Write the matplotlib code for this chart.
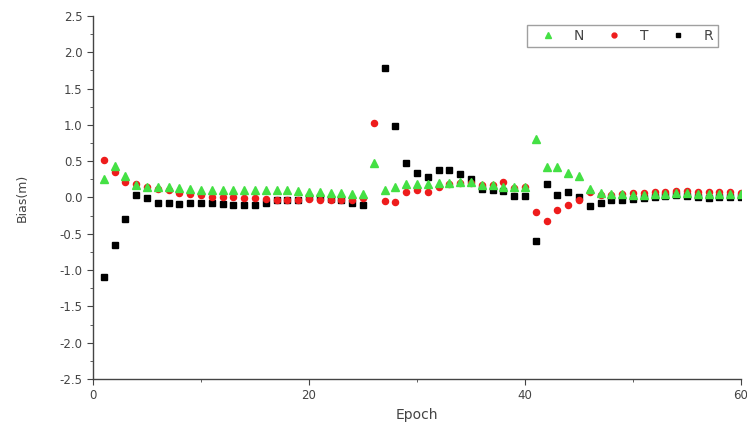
import numpy as np
import matplotlib
matplotlib.use("Agg")
import matplotlib.pyplot as plt
from matplotlib.ticker import MultipleLocator, FormatStrFormatter

epoch = list(range(1, 61))

# N (green triangles)
bias_n = [0.25, 0.44, 0.29, 0.17, 0.15, 0.15, 0.14, 0.13, 0.12, 0.11,
          0.10, 0.10, 0.10, 0.10, 0.10, 0.10, 0.10, 0.10, 0.09, 0.08,
          0.07, 0.06, 0.06, 0.05, 0.05, 0.47, 0.11, 0.15, 0.19, 0.19,
          0.19, 0.20, 0.20, 0.21, 0.22, 0.17, 0.17, 0.15, 0.14, 0.14,
          0.81, 0.42, 0.42, 0.34, 0.29, 0.12, 0.06, 0.05, 0.05, 0.04,
          0.04, 0.05, 0.05, 0.06, 0.06, 0.05, 0.05, 0.05, 0.05, 0.05]

# T (red circles)
bias_t = [0.52, 0.35, 0.22, 0.18, 0.15, 0.12, 0.10, 0.06, 0.05, 0.03,
          0.01, 0.01, 0.00, -0.01, -0.01, -0.02, -0.03, -0.04, -0.03, -0.02,
          -0.03, -0.03, -0.03, -0.03, -0.01, 1.02, -0.05, -0.06, 0.07, 0.11,
          0.07, 0.14, 0.18, 0.20, 0.20, 0.17, 0.17, 0.21, 0.13, 0.14,
          -0.20, -0.33, -0.17, -0.11, -0.03, 0.07, 0.04, 0.04, 0.05, 0.06,
          0.06, 0.07, 0.08, 0.09, 0.09, 0.08, 0.08, 0.07, 0.07, 0.06]

# R (black squares)
bias_r = [-1.10, -0.65, -0.29, 0.03, -0.01, -0.07, -0.07, -0.09, -0.07, -0.07,
          -0.07, -0.09, -0.11, -0.10, -0.10, -0.07, -0.04, -0.04, -0.03, 0.00,
          0.00, -0.02, -0.03, -0.07, -0.10, np.nan, 1.78, 0.98, 0.48, 0.34,
          0.28, 0.38, 0.38, 0.33, 0.26, 0.12, 0.10, 0.09, 0.02, 0.02,
          -0.60, 0.18, 0.03, 0.07, 0.00, -0.12, -0.07, -0.04, -0.04, -0.02,
          -0.01, 0.00, 0.02, 0.03, 0.02, 0.00, -0.01, 0.00, 0.00, 0.00]

fig = plt.figure(figsize=(7.47, 4.32), dpi=100)
ax = fig.add_axes([0.1245, 0.1227, 0.8675, 0.8403])

ax.plot(epoch, bias_r, "s", color="black", ms=4.4, label="R", zorder=3)
ax.plot(epoch, bias_t, "o", color="#ee1c1c", ms=4.4, label="T", zorder=4)
ax.plot(epoch, bias_n, "^", color="#44e044", ms=5.2, label="N", zorder=5)

ax.set_xlim(0, 60)
ax.set_ylim(-2.5, 2.5)
ax.xaxis.set_major_locator(MultipleLocator(20))
ax.xaxis.set_minor_locator(MultipleLocator(10))
ax.yaxis.set_major_locator(MultipleLocator(0.5))
ax.yaxis.set_minor_locator(MultipleLocator(0.25))
ax.yaxis.set_major_formatter(FormatStrFormatter("%.1f"))

for s in ["top", "right"]:
    ax.spines[s].set_visible(False)
for s in ["left", "bottom"]:
    ax.spines[s].set_color("#444444")
    ax.spines[s].set_linewidth(1.0)
ax.tick_params(which="major", direction="out", length=4, color="#444444",
               labelsize=8.5, labelcolor="#444444")
ax.tick_params(which="minor", direction="out", length=2.5, color="#444444")

ax.set_xlabel("Epoch", fontsize=10, color="#444444", labelpad=4)
ax.set_ylabel("Bias(m)", fontsize=9, color="#444444", labelpad=22)

handles, labels = ax.get_legend_handles_labels()
order = [2, 1, 0]
leg = ax.legend([handles[i] for i in order], [labels[i] for i in order],
                ncol=3, loc="upper right", bbox_to_anchor=(0.975, 0.995),
                fancybox=False, edgecolor="#888888", fontsize=10,
                handletextpad=0.7, columnspacing=0.9, handlelength=2.4,
                borderpad=0.3, markerscale=0.8)
leg.get_frame().set_linewidth(1.0)
for t in leg.get_texts():
    t.set_color("#444444")

fig.savefig("out.png", dpi=100)
